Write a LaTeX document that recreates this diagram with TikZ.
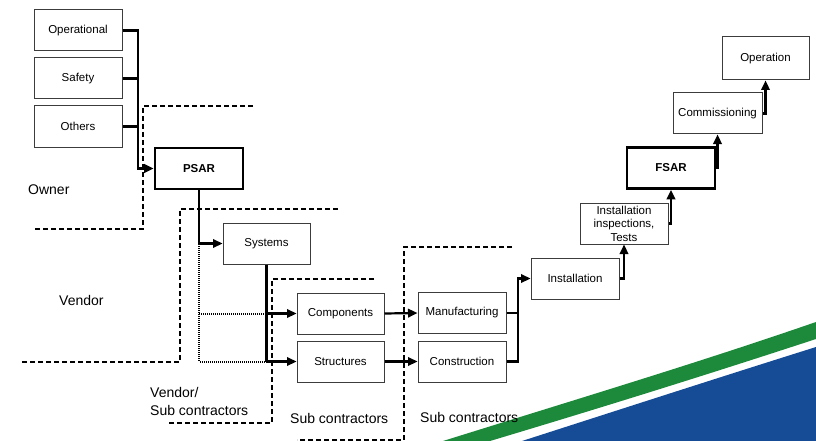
\documentclass[tikz,border=0pt]{standalone}
\usepackage{fontspec}
\setmainfont{Liberation Sans}
\usetikzlibrary{arrows.meta}
\definecolor{swgreen}{RGB}{28,138,58}
\definecolor{swblue}{RGB}{22,76,150}
\definecolor{boxline}{RGB}{60,60,60}
\begin{document}
\begin{tikzpicture}[x=1pt,y=-1pt,
  box/.style={draw=boxline,line width=1pt,fill=white,minimum width=88pt,minimum height=41pt,inner sep=1pt,font=\fontsize{11.5}{12}\selectfont,align=center},
  keybox/.style={box,draw=black,line width=2.6pt,font=\fontsize{11.5}{12}\selectfont\bfseries},
  conn/.style={line width=2.2pt,line join=miter},
  arr/.style={conn,-{Triangle[length=9.5pt,width=8.5pt]}},
  dotline/.style={line width=2pt,dash pattern=on 1pt off 1pt},
  bound/.style={line width=1.7pt,dash pattern=on 5pt off 3pt},
  lab/.style={font=\fontsize{14}{17}\selectfont,inner sep=0pt}]
\useasboundingbox (0,0) rectangle (816,441);
% swoosh
\fill[swgreen] (443,441) .. controls (600,392) and (700,362) .. (816,322) -- (816,339) .. controls (700,377) and (600,408) .. (490,441) -- cycle;
\fill[swblue] (522,441) .. controls (640,403) and (730,374) .. (816,347) -- (816,441) -- cycle;
% boundaries
\draw[bound] (253,106) -- (143,106) -- (143,229) -- (33,229);
\draw[bound] (338,209) -- (180,209) -- (180,362) -- (20,362);
\draw[bound] (374,279) -- (272,279) -- (272,423) -- (168,423);
\draw[bound] (512,247) -- (404,247) -- (404,440) -- (297,440);
% nodes
\node[box] (op) at (78,30.5) {Operational};
\node[box] (saf) at (78,78.5) {Safety};
\node[box] (oth) at (78,126.5) {Others};
\node[keybox] (psar) at (199,168.5) {PSAR};
\node[box,minimum width=87pt] (sys) at (266.5,243.5) {Systems};
\node[box,minimum width=87pt] (comp) at (340.5,313.5) {Components};
\node[box,minimum width=87pt] (str) at (340.5,361.5) {Structures};
\node[box] (man) at (462,313) {Manufacturing};
\node[box] (con) at (462,361.5) {Construction};
\node[box] (ins) at (575,278.5) {Installation};
\node[box,font=\fontsize{11.5}{13.5}\selectfont] (insp) at (624,223.5) {Installation\\ inspections,\\ Tests};
\node[keybox] (fsar) at (671,168) {FSAR};
\node[box,minimum width=89pt] (com) at (717.5,113.5) {Commissioning};
\node[box,minimum width=87pt,minimum height=43pt] (opn) at (765.5,58.5) {Operation};
% labels
\node[lab,anchor=west] (lown) at (28,190) {Owner};
\node[lab,anchor=west] (lven) at (59,300) {Vendor};
\node[lab,anchor=west,align=left,font=\fontsize{14}{18}\selectfont] (lvs) at (150,401) {Vendor/\\Sub contractors};
\node[lab,anchor=west] (lsub1) at (290,418) {Sub contractors};
\node[lab,anchor=west] (lsub2) at (420,417) {Sub contractors};
% connectors
\coordinate (bus) at (138,30.5);
\draw[arr] (op.east) -- (bus) |- (psar.west);
\draw[conn] (saf.east) -- (bus |- saf.east);
\draw[conn] (oth.east) -- (bus |- oth.east);
\draw[arr] (psar.south) |- (sys.west);
\coordinate (dotbot) at (psar.south |- str.west);
\coordinate (sysbot) at (sys.south |- str.west);
\coordinate (sysmid) at (sys.south |- comp.west);
\draw[dotline] (psar.south) -- (dotbot) -- (sysbot);
\draw[dotline] (psar.south |- comp.west) -- (sysmid);
\draw[conn] (sys.south) -- (sysbot);
\draw[arr] (sysmid) -- (comp.west);
\draw[arr] (sysbot) -- (str.west);
\draw[arr] (comp.east) -- (man.west);
\draw[arr] (str.east) -- (con.west);
\coordinate (mbus) at (518,313);
\draw[conn] (man.east) -- (mbus);
\draw[arr] (con.east) -| (mbus) |- (ins.west);
\draw[arr] (ins.east) -| (insp.south);
\draw[arr] (insp.east) -| (fsar.south);
\draw[arr] (fsar.east) -| (com.south);
\draw[arr] (com.east) -| (opn.south);
\end{tikzpicture}
\end{document}
